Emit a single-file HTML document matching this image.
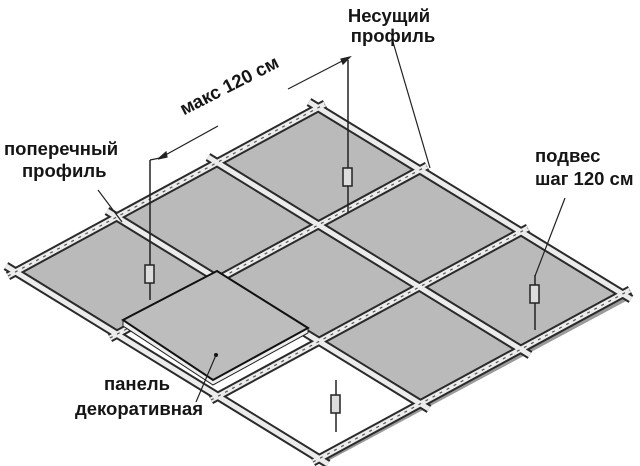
<!DOCTYPE html>
<html><head><meta charset="utf-8"><style>
html,body{margin:0;padding:0;background:#fff;}
svg{display:block}
text{font-family:"Liberation Sans","DejaVu Sans",sans-serif;font-weight:bold;fill:#151515;font-size:18.5px}
</style></head><body>
<svg width="640" height="466" viewBox="0 0 640 466" xmlns="http://www.w3.org/2000/svg">
<polygon points="318,108 623,294 628,302 323,116" fill="#9a9a9a"/>
<polygon points="623,294 320,458 326,462 628,300" fill="#9a9a9a"/>
<g fill="#bababa" stroke="#333" stroke-width="1">
<polygon points="15,272 116,217.3 217.7,279.3 116.7,334"/>
<polygon points="116,217.3 217,162.7 318.7,224.7 217.7,279.3"/>
<polygon points="217,162.7 318,108 419.7,170 318.7,224.7"/>
<polygon points="217.7,279.3 318.7,224.7 420.3,286.7 319.3,341.3"/>
<polygon points="318.7,224.7 419.7,170 521.3,232 420.3,286.7"/>
<polygon points="319.3,341.3 420.3,286.7 522,348.7 421,403.3"/>
<polygon points="420.3,286.7 521.3,232 623,294 522,348.7"/>
</g>
<polygon points="116.7,334 217.7,279.3 319.3,341.3 218.3,396" fill="#fff"/>
<polygon points="218.3,396 319.3,341.3 421,403.3 320,458" fill="#fff"/>
<g stroke="#2a2a2a" stroke-width="9" fill="none">
<line x1="8" y1="276" x2="325" y2="104"/>
<line x1="110" y1="338" x2="427" y2="166"/>
<line x1="211" y1="400" x2="528" y2="228"/>
<line x1="313" y1="462" x2="630" y2="290"/>
<line x1="6" y1="266" x2="328" y2="464"/>
<line x1="107" y1="211" x2="429" y2="409"/>
<line x1="208" y1="157" x2="530" y2="355"/>
<line x1="309" y1="102" x2="631" y2="299"/>
</g>
<g stroke="#ececec" stroke-width="5" fill="none">
<line x1="8" y1="276" x2="325" y2="104"/>
<line x1="110" y1="338" x2="427" y2="166"/>
<line x1="211" y1="400" x2="528" y2="228"/>
<line x1="313" y1="462" x2="630" y2="290"/>
<line x1="6" y1="266" x2="328" y2="464"/>
<line x1="107" y1="211" x2="429" y2="409"/>
<line x1="208" y1="157" x2="530" y2="355"/>
<line x1="309" y1="102" x2="631" y2="299"/>
</g>
<g stroke="#555" stroke-width="1.2" stroke-dasharray="3 5" fill="none">
<line x1="8" y1="276" x2="325" y2="104"/>
<line x1="110" y1="338" x2="427" y2="166"/>
<line x1="211" y1="400" x2="528" y2="228"/>
<line x1="313" y1="462" x2="630" y2="290"/>
</g>
<polygon points="123,320 217,271 308,328 308,333 213,385 123,326" fill="#eee" stroke="#222" stroke-width="1"/>
<polygon points="123,320 217,271 308,328 213,380" fill="#bdbdbd" stroke="#111" stroke-width="2"/>
<circle cx="216" cy="355" r="2" fill="#111"/>
<g stroke="#222" stroke-width="1.5" fill="#ddd">
<line x1="150" y1="160" x2="150" y2="300"/>
<rect x="145" y="265" width="9" height="18"/>
<line x1="348" y1="60" x2="348" y2="212"/>
<rect x="343" y="168" width="9" height="18"/>
<line x1="535" y1="275" x2="535" y2="330"/>
<rect x="530" y="285" width="9" height="18"/>
<line x1="336" y1="380" x2="336" y2="432"/>
<rect x="331" y="395" width="9" height="18"/>
</g>
<g stroke="#222" stroke-width="1.2" fill="#222">
<line x1="160" y1="158" x2="218" y2="126"/>
<line x1="288" y1="89" x2="348" y2="58"/>
<line x1="150" y1="160" x2="160" y2="158"/>
<polygon points="158,159 166,152 167,157"/>
<polygon points="350,57 341,59 343,64"/>
<line x1="393" y1="42" x2="430" y2="168"/>
<line x1="98" y1="190" x2="122" y2="222"/>
<line x1="565" y1="198" x2="535" y2="276"/>
<line x1="216" y1="355" x2="196" y2="402"/>
</g>
<text x="389" y="22" text-anchor="middle">Несущий</text>
<text x="393" y="42" text-anchor="middle">профиль</text>
<text x="232" y="91" text-anchor="middle" transform="rotate(-27 232 91)">макс 120 см</text>
<text x="4" y="155">поперечный</text>
<text x="22" y="177">профиль</text>
<text x="535" y="162">подвес</text>
<text x="535" y="185">шаг 120 см</text>
<text x="137" y="390" text-anchor="middle">панель</text>
<text x="203" y="415" text-anchor="end">декоративная</text>
</svg>
</body></html>
